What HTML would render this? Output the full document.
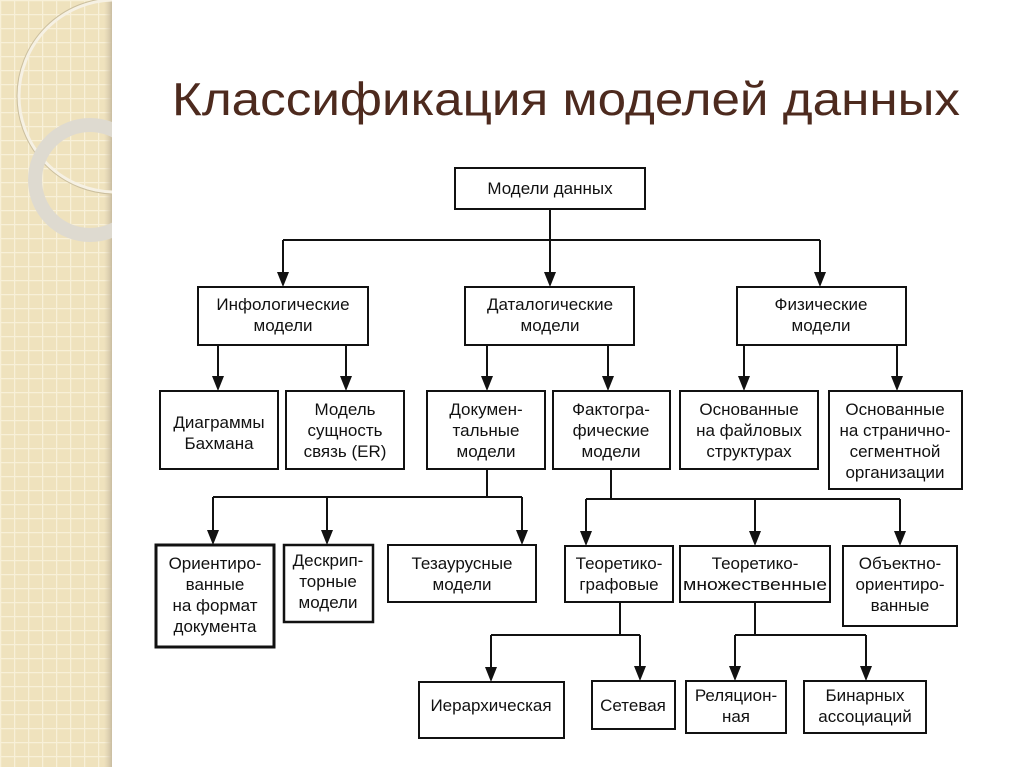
<!DOCTYPE html>
<html><head><meta charset="utf-8"><style>
html,body{margin:0;padding:0;background:#fff}
body{width:1024px;height:767px;position:relative;overflow:hidden}
</style></head><body>
<svg width="1024" height="767" viewBox="0 0 1024 767" xmlns="http://www.w3.org/2000/svg" style="position:absolute;left:0;top:0">
<defs>
<pattern id="grid" width="14" height="14" patternUnits="userSpaceOnUse">
<rect width="14" height="14" fill="#efe2bd"/>
<path d="M0 0.5H14M0.5 0V14" stroke="#f8f0d8" stroke-width="1.5"/>
</pattern>
<linearGradient id="sh" x1="0" x2="1"><stop offset="0" stop-color="#d8cbb0" stop-opacity="0"/><stop offset="1" stop-color="#c9bca0"/></linearGradient>
<clipPath id="cl"><rect x="0" y="0" width="112" height="767"/></clipPath>
</defs>
<rect x="0" y="0" width="112" height="767" fill="url(#grid)"/>
<rect x="104" y="0" width="8" height="767" fill="url(#sh)"/>
<g clip-path="url(#cl)">
<circle cx="115" cy="96" r="96" fill="none" stroke="#f6f1e4" stroke-width="3"/>
<circle cx="115" cy="96" r="98" fill="none" stroke="#cbbf9f" stroke-width="1"/>
<circle cx="90" cy="180" r="55" fill="none" stroke="#dedad0" stroke-width="14"/>
</g>
<text x="172" y="115" font-family="Liberation Sans, sans-serif" font-size="46" fill="#4d2a1e" textLength="788" lengthAdjust="spacingAndGlyphs">Классификация моделей данных</text>
<g fill="none" stroke="#111" stroke-width="2">
<rect x="455" y="168" width="190" height="41"/>
<rect x="198" y="287" width="170" height="58"/>
<rect x="465" y="287" width="169" height="58"/>
<rect x="737" y="287" width="169" height="58"/>
<rect x="160" y="391" width="118" height="78"/>
<rect x="286" y="391" width="118" height="78"/>
<rect x="427" y="391" width="118" height="78"/>
<rect x="553" y="391" width="117" height="78"/>
<rect x="680" y="391" width="138" height="78"/>
<rect x="829" y="391" width="133" height="98"/>
<rect x="156" y="545" width="118" height="102" stroke-width="3"/>
<rect x="284" y="545" width="89" height="77" stroke-width="2.5"/>
<rect x="388" y="545" width="148" height="57"/>
<rect x="565" y="546" width="108" height="56"/>
<rect x="680" y="546" width="150" height="56"/>
<rect x="843" y="546" width="114" height="80"/>
<rect x="419" y="682" width="145" height="56"/>
<rect x="592" y="681" width="83" height="48"/>
<rect x="686" y="681" width="100" height="52"/>
<rect x="804" y="681" width="122" height="52"/>
<path d="M550 209V240M283 240H820"/>
<path d="M283 240V274M550 240V274M820 240V274"/>
<path d="M218 345V378M346 345V378M487 345V378M608 345V378M744 345V378M897 345V378"/>
<path d="M487 469V497M213 497H522M611 469V499M586 499H900"/>
<path d="M213 497V532M327 497V532M522 497V532M586 499V533M755 499V533M900 499V533"/>
<path d="M620 602V635M491 635H640M755 602V635M735 635H866"/>
<path d="M491 635V669M640 635V668M735 635V668M866 635V668"/>
</g>
<g fill="#111">
<path d="M277 272h12l-6 15z"/><path d="M544 272h12l-6 15z"/><path d="M814 272h12l-6 15z"/>
<path d="M212 376h12l-6 15z"/><path d="M340 376h12l-6 15z"/><path d="M481 376h12l-6 15z"/><path d="M602 376h12l-6 15z"/><path d="M738 376h12l-6 15z"/><path d="M891 376h12l-6 15z"/>
<path d="M207 530h12l-6 15z"/><path d="M321 530h12l-6 15z"/><path d="M516 530h12l-6 15z"/><path d="M580 531h12l-6 15z"/><path d="M749 531h12l-6 15z"/><path d="M894 531h12l-6 15z"/>
<path d="M485 667h12l-6 15z"/><path d="M634 666h12l-6 15z"/><path d="M729 666h12l-6 15z"/><path d="M860 666h12l-6 15z"/>
</g>
<g font-family="Liberation Sans, sans-serif" font-size="17" fill="#111" text-anchor="middle">
<text x="550" y="194">Модели данных</text>
<text x="283" y="310">Инфологические</text><text x="283" y="331">модели</text>
<text x="550" y="310">Даталогические</text><text x="550" y="331">модели</text>
<text x="821" y="310">Физические</text><text x="821" y="331">модели</text>
<text x="219" y="428">Диаграммы</text><text x="219" y="449">Бахмана</text>
<text x="345" y="415">Модель</text><text x="345" y="436">сущность</text><text x="345" y="457">связь (ER)</text>
<text x="486" y="415">Докумен-</text><text x="486" y="436">тальные</text><text x="486" y="457">модели</text>
<text x="611" y="415">Фактогра-</text><text x="611" y="436">фические</text><text x="611" y="457">модели</text>
<text x="749" y="415">Основанные</text><text x="749" y="436">на файловых</text><text x="749" y="457">структурах</text>
<text x="895" y="415">Основанные</text><text x="895" y="436">на странично-</text><text x="895" y="457">сегментной</text><text x="895" y="478">организации</text>
<text x="215" y="569">Ориентиро-</text><text x="215" y="590">ванные</text><text x="215" y="611">на формат</text><text x="215" y="632">документа</text>
<text x="328" y="566">Дескрип-</text><text x="328" y="587">торные</text><text x="328" y="608">модели</text>
<text x="462" y="569">Тезаурусные</text><text x="462" y="590">модели</text>
<text x="619" y="569">Теоретико-</text><text x="619" y="590">графовые</text>
<text x="755" y="569">Теоретико-</text><text x="755" y="590" textLength="144" lengthAdjust="spacingAndGlyphs">множественные</text>
<text x="900" y="569">Объектно-</text><text x="900" y="590">ориентиро-</text><text x="900" y="611">ванные</text>
<text x="491" y="711">Иерархическая</text>
<text x="633" y="711">Сетевая</text>
<text x="736" y="701">Реляцион-</text><text x="736" y="722">ная</text>
<text x="865" y="701">Бинарных</text><text x="865" y="722">ассоциаций</text>
</g>
</svg>
</body></html>
